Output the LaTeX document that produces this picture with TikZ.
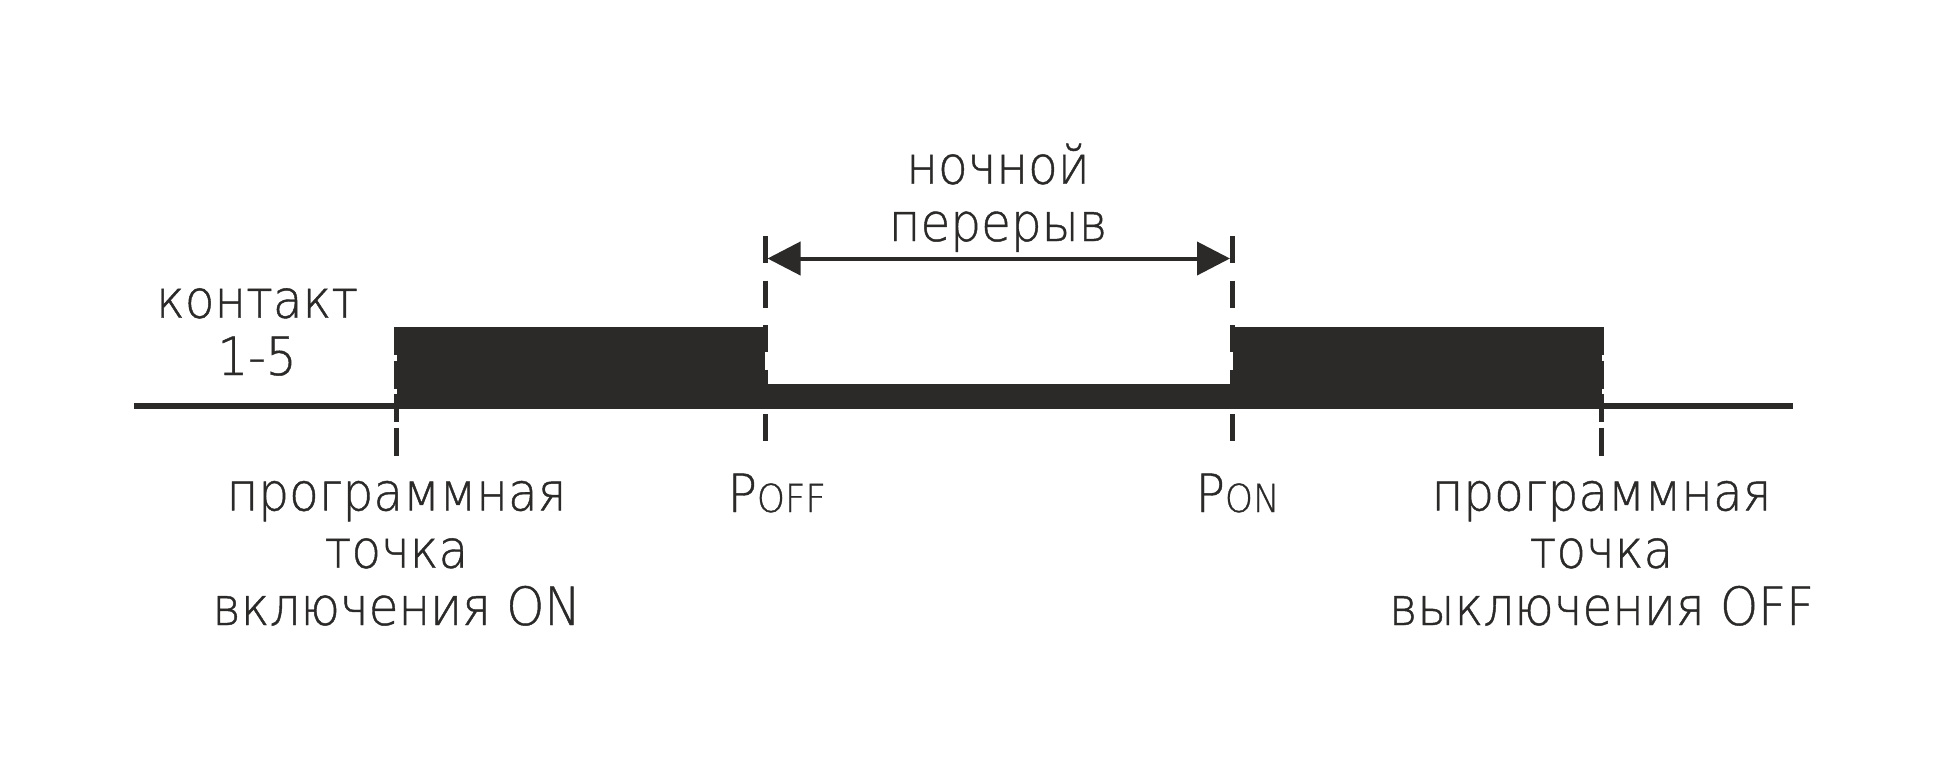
\documentclass[tikz,border=0pt]{standalone}
\usepackage{fontspec}
\setmainfont{DejaVuSans-ExtraLight.ttf}[FakeStretch=0.92,FakeBold=0.8]
\usetikzlibrary{arrows.meta,positioning}
\definecolor{ink}{HTML}{2B2A29}

\begin{document}
\begin{tikzpicture}[x=0.1mm,y=-0.1mm,>={Triangle[length=3.3mm,width=3.3mm]},
		lbl/.style={text=ink,align=center,inner sep=0pt,font=\fontsize{15}{16.3}\selectfont},
		small/.style={font=\fontsize{11}{12}\selectfont},
		cutline/.style={draw=ink,line width=0.5mm,dash pattern=on 2.7mm off 1.75mm},
		edgeline/.style={draw=ink,line width=0.5mm,dash pattern=on 2.8mm off 0.55mm}]
		\useasboundingbox (0,0) rectangle (1946,772);
		% time axis
		\coordinate (t_0) at (134,406);
		\coordinate (t_1) at (1793,406);
		\draw[ink,line width=0.6mm] (t_0) -- (t_1);
		% contact state
		\fill[ink] (396.5,327) rectangle (765,409);
		\fill[ink] (765,384) rectangle (1232.5,409);
		\fill[ink] (1232.5,327) rectangle (1601.5,409);
		% switching points
		\coordinate (on_t) at (396.5,327);
		\coordinate (on_b) at (396.5,455.5);
		\coordinate (off_t) at (1601.5,327);
		\coordinate (off_b) at (1601.5,455.5);
		\coordinate (poff_t) at (765,236);
		\coordinate (poff_b) at (765,442);
		\coordinate (pon_t) at (1232.5,236);
		\coordinate (pon_b) at (1232.5,442);
		\draw[edgeline] (on_t) -- (on_b);
		\draw[edgeline] (off_t) -- (off_b);
		\draw[cutline] (poff_t) -- (poff_b);
		\draw[cutline] (pon_t) -- (pon_b);
		% night break
		\coordinate (nb_0) at (765,258.5);
		\coordinate (nb_1) at (1232.5,258.5);
		\draw[<->,ink,line width=0.4mm,shorten >=0.25mm,shorten <=0.25mm] (nb_0) -- (nb_1);
		\node[lbl,anchor=base] (night) at (998,241) {ночной\\перерыв};
		\node[lbl,anchor=base] (contact) at (257,375) {контакт\\1-5};
		\node[lbl,anchor=base west] (poff) at (727,512) {P{\fontsize{11}{12}\selectfont OFF}};
		\node[lbl,anchor=base west] (pon) at (1195,512) {P{\fontsize{11}{12}\selectfont ON}};
		\node[lbl,anchor=base] (on_lbl) at (396.5,625) {программная\\точка\\включения ON};
		\node[lbl,anchor=base] (off_lbl) at (1601.5,625) {программная\\точка\\выключения OFF};
	\end{tikzpicture}
\end{document}
